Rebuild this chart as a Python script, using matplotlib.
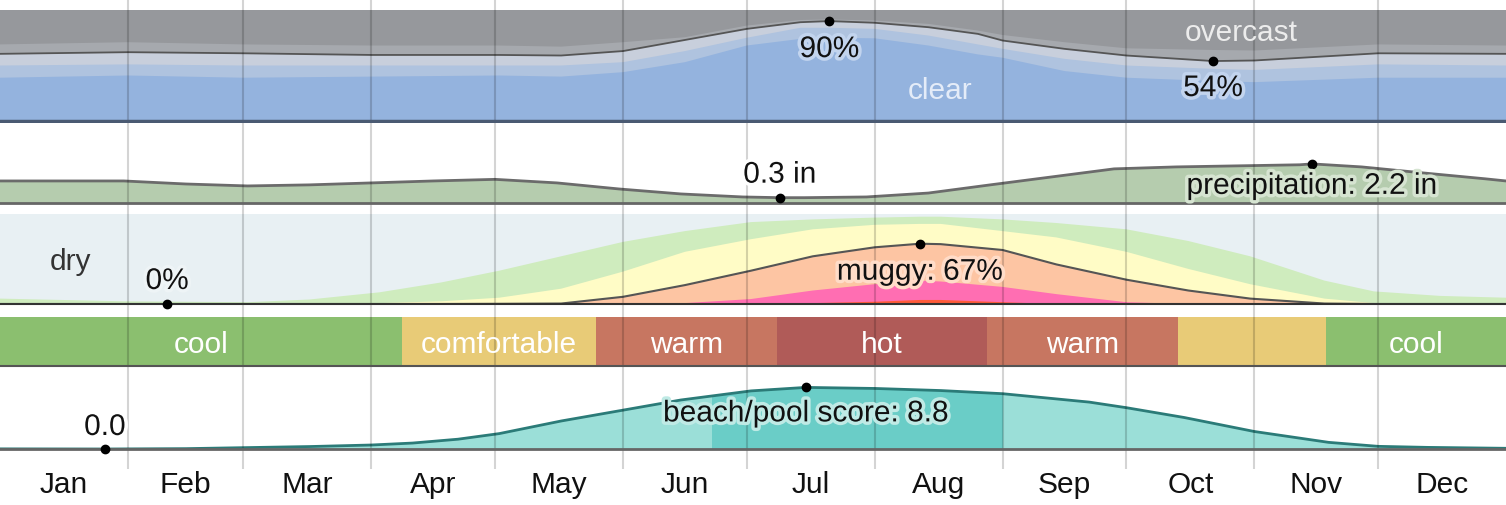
import numpy as np
import matplotlib.pyplot as plt
import matplotlib.patheffects as pe

plt.rcParams['font.family'] = ['Liberation Sans', 'DejaVu Sans']

W, H = 1506, 506
YEAR = 365

MONTHS = ['Jan', 'Feb', 'Mar', 'Apr', 'May', 'Jun', 'Jul', 'Aug', 'Sep', 'Oct', 'Nov', 'Dec']
MONTH_DAYS = [31, 28, 31, 30, 31, 30, 31, 31, 30, 31, 30, 31]

# cloud cover: cumulative share of time (from bottom) clear / mostly clear / partly cloudy / mostly cloudy
C_DAYS = [0, 31, 59, 90, 121, 136, 151, 166, 181, 194, 201, 212, 225, 237, 243, 258, 273, 294, 304, 334, 365]
clear = [0.39, 0.41, 0.39, 0.40, 0.41, 0.40, 0.44, 0.53, 0.68, 0.74, 0.75, 0.745, 0.68, 0.60, 0.57, 0.45, 0.39, 0.36, 0.35, 0.39, 0.39]
mostly_clear = [0.50, 0.51, 0.50, 0.50, 0.50, 0.50, 0.53, 0.63, 0.75, 0.84, 0.84, 0.83, 0.77, 0.69, 0.65, 0.56, 0.50, 0.47, 0.46, 0.51, 0.50]
partly_cloudy = [0.605, 0.62, 0.61, 0.595, 0.595, 0.59, 0.63, 0.73, 0.83, 0.89, 0.90, 0.885, 0.845, 0.785, 0.725, 0.65, 0.59, 0.54, 0.545, 0.61, 0.605]
mostly_cloudy = [0.69, 0.71, 0.69, 0.68, 0.68, 0.67, 0.71, 0.755, 0.86, 0.91, 0.915, 0.905, 0.875, 0.815, 0.775, 0.71, 0.655, 0.64, 0.635, 0.69, 0.68]
cloud_max = (201, 0.90)
cloud_min = (294, 0.54)

# monthly rainfall (inches, 31-day sliding)
P_DAYS = [0, 15, 30, 45, 60, 75, 90, 105, 120, 135, 150, 165, 180, 189, 195, 210, 225, 240, 255, 270, 285, 300, 315, 318, 330, 345, 360, 365]
precip = [1.24, 1.24, 1.24, 1.07, 0.96, 1.02, 1.13, 1.24, 1.33, 1.13, 0.79, 0.51, 0.34, 0.30, 0.30, 0.34, 0.56, 1.02, 1.47, 1.92, 2.03, 2.09, 2.15, 2.20, 2.03, 1.69, 1.36, 1.24]
precip_min = (189, 0.3)
precip_max = (318, 2.2)

# humidity comfort levels: cumulative share of time (from bottom)
H_DAYS = [0, 30, 60, 75, 92, 107, 121, 136, 151, 166, 182, 197, 212, 223, 228, 243, 256, 273, 288, 303, 321, 333, 349, 365]
comfortable = [0.06, 0.03, 0.02, 0.05, 0.13, 0.24, 0.37, 0.53, 0.69, 0.81, 0.91, 0.94, 0.96, 0.97, 0.97, 0.94, 0.90, 0.83, 0.70, 0.53, 0.26, 0.14, 0.09, 0.07]
humid = [0, 0, 0, 0.003, 0.01, 0.03, 0.07, 0.17, 0.36, 0.58, 0.72, 0.83, 0.88, 0.89, 0.89, 0.81, 0.74, 0.58, 0.39, 0.22, 0.06, 0.01, 0, 0]
muggy = [0, 0, 0, 0, 0, 0, 0.002, 0.005, 0.08, 0.21, 0.37, 0.53, 0.63, 0.67, 0.665, 0.60, 0.44, 0.27, 0.15, 0.06, 0.005, 0, 0, 0]
oppressive = [0, 0, 0, 0, 0, 0, 0, 0, 0, 0.01, 0.055, 0.15, 0.22, 0.26, 0.25, 0.19, 0.11, 0.02, 0, 0, 0, 0, 0, 0]
miserable = [0, 0, 0, 0, 0, 0, 0, 0, 0, 0, 0, 0.01, 0.025, 0.045, 0.045, 0.02, 0, 0, 0, 0, 0, 0, 0, 0]
muggy_min = (40.5, 0.0)
muggy_max = (223, 0.67)

# perceived temperature bands
T_EDGES = [0, 97.4, 144.4, 188.3, 239.2, 285.5, 321.4, 365]
T_KIND = ['cool', 'comfortable', 'warm', 'hot', 'warm', 'comfortable', 'cool']
T_SHOW = [True, True, True, True, True, False, True]

# beach / pool score
B_DAYS = [0, 25.4, 45, 60, 75, 90, 100, 111, 121, 136, 151, 165, 182, 195.3, 212, 228, 243, 264, 273, 287, 304, 322, 334, 346, 365]
beach = [0.02, 0.0, 0.05, 0.2, 0.35, 0.57, 0.85, 1.4, 2.2, 4.0, 5.55, 7.0, 8.3, 8.8, 8.65, 8.35, 7.9, 6.7, 5.9, 4.5, 2.5, 0.95, 0.38, 0.23, 0.1]
BEST_START, BEST_END = 172.6, 243.1
beach_min = (25.4, 0.0)
beach_max = (195.3, 8.8)

TEMP_COLORS = {'cool': '#8bbf6f', 'comfortable': '#e8cb77', 'warm': '#c77661', 'hot': '#b05b58'}
GRID = dict(color='black', alpha=0.17, lw=1.5)
FS = 21.5

month_starts = np.cumsum([0] + MONTH_DAYS)
month_mid = month_starts[:-1] + np.array(MONTH_DAYS) / 2

fig = plt.figure(figsize=(W / 100, H / 100), dpi=100)

# background: grid lines between panels + month labels
bg = fig.add_axes([0, 0, 1, 1])
bg.set_xlim(0, YEAR)
bg.set_ylim(H, 0)
bg.axis('off')
bg.vlines(month_starts[1:-1], 0, 470, **GRID)
for m, name in zip(month_mid, MONTHS):
    bg.text(m, 485, name, ha='center', va='center', fontsize=FS, color='#111')


def panel(top, bottom, ymax):
    ax = fig.add_axes([0, 1 - bottom / H, 1, (bottom - top) / H])
    ax.set_xlim(0, YEAR)
    ax.set_ylim(0, ymax)
    ax.set_xticks([])
    ax.set_yticks([])
    for s in ax.spines.values():
        s.set_visible(False)
    for m in month_starts[1:-1]:
        ax.axvline(m, zorder=4, **GRID)
    return ax


def label(ax, xy, text, dy, halo, color='#111'):
    ax.plot(*xy, 'o', color='black', ms=6, zorder=6, clip_on=False)
    ax.annotate(text, xy, xytext=(0, dy), textcoords='offset pixels', ha='center', va='center',
                fontsize=FS, color=color, zorder=7, annotation_clip=False,
                path_effects=[pe.withStroke(linewidth=5, foreground=halo)])


# clouds
ax = panel(11, 122, 1)
ax.fill_between(C_DAYS, 0, 1, color='#96989c', lw=0)
ax.fill_between(C_DAYS, 0, mostly_cloudy, color='#a6a9ae', lw=0)
ax.fill_between(C_DAYS, 0, partly_cloudy, color='#c8cfdc', lw=0)
ax.fill_between(C_DAYS, 0, mostly_clear, color='#afc3df', lw=0)
ax.fill_between(C_DAYS, 0, clear, color='#94b3de', lw=0)
ax.plot(C_DAYS, partly_cloudy, color='#555', lw=1.3, zorder=3)
ax.axhline(0, color='#4a5a72', lw=2.5, zorder=5, clip_on=False)
ax.text(300.8, 0.80, 'overcast', ha='center', va='center', fontsize=FS, color='#ececec', zorder=6)
ax.text(227.8, 0.28, 'clear', ha='center', va='center', fontsize=FS, color='#e4ecf8', zorder=6)
label(ax, cloud_max, '90%', -28, '#c2d4ee')
label(ax, cloud_min, '54%', -27, '#c2d4ee')

# precipitation
ax = panel(124, 204, 4.5)
ax.fill_between(P_DAYS, 0, precip, color='#b5ccae', lw=0)
ax.plot(P_DAYS, precip, color='#6b6b6b', lw=2, zorder=3)
ax.axhline(0, color='#666', lw=2, zorder=5, clip_on=False)
label(ax, precip_min, '0.3 in', 23, 'white')
label(ax, precip_max, 'precipitation: 2.2 in', -22, '#d6e4d1')

# humidity
ax = panel(215, 305, 1)
ax.fill_between(H_DAYS, 0, 1, color='#e8f0f3', lw=0)
ax.fill_between(H_DAYS, 0, comfortable, color='#cfecbe', lw=0)
ax.fill_between(H_DAYS, 0, humid, color='#fffcc6', lw=0)
ax.fill_between(H_DAYS, 0, muggy, color='#fdc5a3', lw=0)
ax.fill_between(H_DAYS, 0, oppressive, color='#ff6eb2', lw=0)
ax.fill_between(H_DAYS, 0, miserable, color='#ff5b3a', lw=0)
ax.plot(H_DAYS, muggy, color='#555', lw=1.5, zorder=3)
ax.axhline(0, color='#333', lw=1.5, zorder=5, clip_on=False)
ax.text(17, 0.48, 'dry', ha='center', va='center', fontsize=FS, color='#333', zorder=6)
label(ax, muggy_min, '0%', 23, '#eef4f6')
label(ax, muggy_max, 'muggy: 67%', -28, '#ffdcc8')

# temperature bands
ax = panel(318, 367, 1)
for a, b, kind, show in zip(T_EDGES[:-1], T_EDGES[1:], T_KIND, T_SHOW):
    ax.axvspan(a, b, color=TEMP_COLORS[kind], lw=0)
    if show:
        ax.text((a + b) / 2, 0.45, kind, ha='center', va='center', fontsize=FS, color='white', zorder=6)
ax.axhline(0, color='#555', lw=1.5, zorder=5, clip_on=False)

# beach / pool score
ax = panel(380, 450, 10)
ax.fill_between(B_DAYS, 0, beach, color='#9bdfd8', lw=0)
best = ax.fill_between(B_DAYS, 0, beach, color='#6acdc7', lw=0)
best.set_clip_path(plt.Rectangle((BEST_START, 0), BEST_END - BEST_START, 10, transform=ax.transData))
ax.plot(B_DAYS, beach, color='#2b7b78', lw=2, zorder=3)
ax.axhline(0, color='#666', lw=2, zorder=5, clip_on=False)
label(ax, beach_min, '0.0', 22, 'white')
label(ax, beach_max, 'beach/pool score: 8.8', -26, '#bfeae5')

fig.savefig('out.png', dpi=100)
